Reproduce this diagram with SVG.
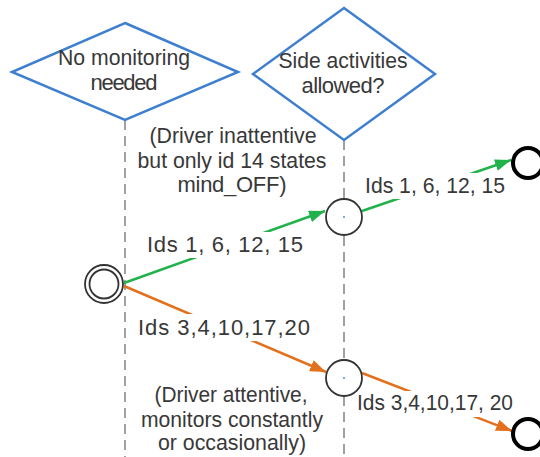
<svg xmlns="http://www.w3.org/2000/svg" width="540" height="457" viewBox="0 0 540 457">
<style>
text{font-family:"Liberation Sans",Arial,sans-serif;font-size:22px;fill:#383838;text-anchor:middle}
.dia{fill:#fff;stroke:#3f7fcf;stroke-width:2.5}
.lane{stroke:#8a8a8a;stroke-width:1.6;stroke-dasharray:10,6;fill:none}
.st{fill:#fff;stroke:#333;stroke-width:1.8}
.end{fill:#fff;stroke:#000;stroke-width:4}
.g{stroke:#22b24c;stroke-width:2.5;fill:none}
.o{stroke:#e2701c;stroke-width:2.5;fill:none}
.bg{fill:#fff}
</style>
<defs>
<marker id="ag" viewBox="0 0 16 12" refX="16" refY="6" markerWidth="16" markerHeight="12" markerUnits="userSpaceOnUse" orient="auto"><path d="M0,0 L16,6 L0,12 Z" fill="#22b24c"/></marker>
<marker id="ao" viewBox="0 0 16 12" refX="16" refY="6" markerWidth="16" markerHeight="12" markerUnits="userSpaceOnUse" orient="auto"><path d="M0,0 L16,6 L0,12 Z" fill="#e2701c"/></marker>
</defs>
<g id="lanes">
<line class="lane" x1="125" y1="120" x2="125" y2="457"/>
<line class="lane" x1="344" y1="140" x2="344" y2="457"/>
</g>
<g id="d1"><polygon class="dia" points="125,23 238,72 125,120 12,72"/>
<text x="124" y="65" textLength="132" lengthAdjust="spacingAndGlyphs">No monitoring</text><text x="124" y="90" textLength="67" lengthAdjust="spacing">needed</text></g>
<g id="d2"><polygon class="dia" points="344,8 435,74 344,140 253,74"/>
<text x="343" y="68" textLength="129" lengthAdjust="spacingAndGlyphs">Side activities</text><text x="343" y="93" textLength="83" lengthAdjust="spacing">allowed?</text></g>
<g id="note1"><text x="233" y="143" textLength="167" lengthAdjust="spacingAndGlyphs">(Driver inattentive</text><text x="232" y="168" textLength="189" lengthAdjust="spacingAndGlyphs">but only id 14 states</text><text x="232" y="192" textLength="109" lengthAdjust="spacing">mind_OFF)</text></g>
<g id="note2"><text x="231" y="402" textLength="153" lengthAdjust="spacingAndGlyphs">(Driver attentive,</text><text x="232" y="427" textLength="182" lengthAdjust="spacingAndGlyphs">monitors constantly</text><text x="232" y="450" textLength="148" lengthAdjust="spacingAndGlyphs">or occasionally)</text></g>
<g id="connectors">
<line class="g" x1="124" y1="283" x2="325" y2="211" marker-end="url(#ag)"/>
<line class="o" x1="124" y1="286" x2="326" y2="372" marker-end="url(#ao)"/>
<line class="g" x1="362" y1="211" x2="511" y2="160" marker-end="url(#ag)"/>
<line class="o" x1="362" y1="373" x2="512" y2="431" marker-end="url(#ao)"/>
<rect class="bg" x="143" y="232" width="164" height="26"/>
<rect class="bg" x="134" y="314" width="180" height="27"/>
<rect class="bg" x="361" y="173" width="148" height="26"/>
<rect class="bg" x="353" y="391" width="164" height="26"/>
<text x="225" y="252" textLength="156" lengthAdjust="spacing">Ids 1, 6, 12, 15</text>
<text x="224" y="335" textLength="172" lengthAdjust="spacing">Ids 3,4,10,17,20</text>
<text x="435" y="193" textLength="140" lengthAdjust="spacingAndGlyphs">Ids 1, 6, 12, 15</text>
<text x="435" y="410" textLength="156" lengthAdjust="spacingAndGlyphs">Ids 3,4,10,17, 20</text>
</g>
<g id="start"><circle class="st" cx="104" cy="284" r="19"/><circle class="st" cx="104" cy="284" r="14.5"/></g>
<g id="m1"><circle class="st" cx="344" cy="217" r="18"/><circle cx="344" cy="217" r="0.9" fill="#3f7fcf"/></g>
<g id="m2"><circle class="st" cx="344" cy="378" r="18"/><circle cx="344" cy="378" r="0.9" fill="#3f7fcf"/></g>
<g id="e1"><circle class="end" cx="528" cy="163" r="15"/></g>
<g id="e2"><circle class="end" cx="528" cy="434" r="15"/></g>
</svg>
